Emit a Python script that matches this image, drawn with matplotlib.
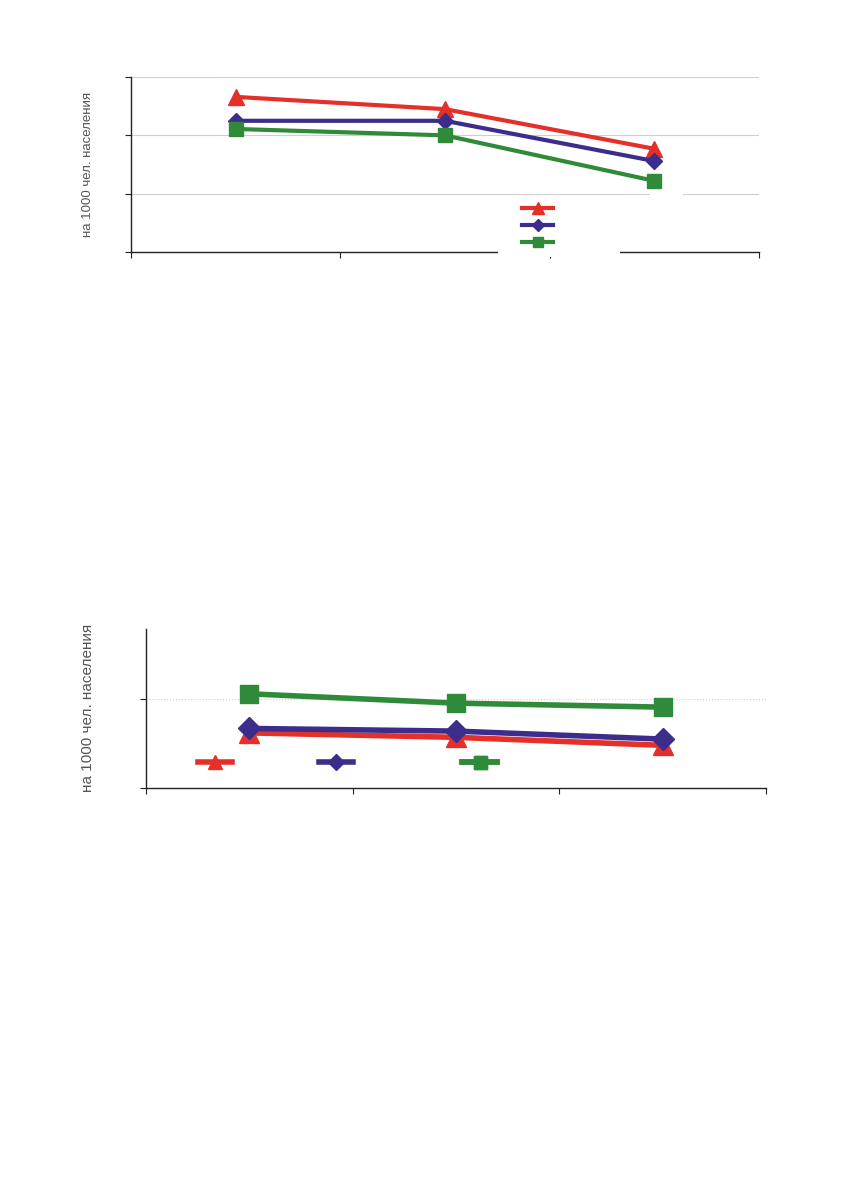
import matplotlib
matplotlib.use("Agg")
import matplotlib.pyplot as plt
from matplotlib.patches import Rectangle

plt.rcParams['font.family'] = ['Liberation Sans', 'DejaVu Sans']

# Data (axis labels are not shown in the source)
periods = ['I', 'II', 'III']
top_red = [2.66, 2.45, 1.77]
top_blue = [2.25, 2.25, 1.56]
top_green = [2.11, 2.00, 1.22]

bottom_red = [0.62, 0.57, 0.48]
bottom_blue = [0.67, 0.64, 0.55]
bottom_green = [1.06, 0.955, 0.91]

RED = '#E5302A'
BLUE = '#3C2D8C'
GREEN = '#2F8B3A'
YLABEL = 'на 1000 чел. населения'

fig = plt.figure(figsize=(8.5, 11.91), dpi=100)

def setup_axes(ax, ymax, yticks, grid_style):
    ax.set_xlim(0, len(periods))
    ax.set_ylim(0, ymax)
    ax.set_xticks(range(len(periods) + 1))
    ax.set_yticks(yticks)
    ax.set_xticklabels([])
    ax.set_yticklabels([])
    ax.tick_params(direction='out', length=4, width=0.8, colors='#222222')
    ax.spines['top'].set_visible(False)
    ax.spines['right'].set_visible(False)
    for s in ('left', 'bottom'):
        ax.spines[s].set_color('#222222')
        ax.spines[s].set_linewidth(1.0)
    ax.yaxis.grid(True, color='#cfcfcf', linewidth=0.8, linestyle=grid_style)
    ax.set_axisbelow(True)

x = [i + 0.5 for i in range(len(periods))]

# ---- top chart ----
ax1 = fig.add_axes([0.1541, 0.7884, 0.7388, 0.1469])
setup_axes(ax1, 3.0, [0, 1, 2, 3], '-')
h1 = ax1.plot(x, top_red, color=RED, lw=3, marker='^', ms=11, clip_on=False)[0]
h2 = ax1.plot(x, top_blue, color=BLUE, lw=3, marker='D', ms=8, clip_on=False)[0]
h3 = ax1.plot(x, top_green, color=GREEN, lw=3, marker='s', ms=10, clip_on=False)[0]

# white boxes of the legend and of a (blank) data label
ax1.add_patch(Rectangle((0.584, -0.03), 0.195, 0.34, transform=ax1.transAxes,
                        facecolor='white', edgecolor='none', zorder=4, clip_on=False))
ax1.add_patch(Rectangle((0.826, 0.32), 0.053, 0.045, transform=ax1.transAxes,
                        facecolor='white', edgecolor='none', zorder=1, clip_on=False))
leg1 = ax1.legend([h1, h2, h3], [' ', ' ', ' '], loc='upper left',
                  bbox_to_anchor=(0.613, 0.312), frameon=False, handlelength=2.5,
                  markerscale=0.75, labelspacing=0.4, fontsize=9, borderpad=0,
                  handletextpad=0.3)
leg1.set_zorder(5)
fig.text(0.104, 0.8618, YLABEL, rotation=90, ha='center', va='center',
         fontsize=9.5, color='#555555')

# ---- bottom chart ----
ax2 = fig.add_axes([0.1718, 0.3384, 0.7294, 0.1335])
setup_axes(ax2, 1.79, [0, 1], ':')
g1 = ax2.plot(x, bottom_red, color=RED, lw=4, marker='^', ms=14, clip_on=False)[0]
g2 = ax2.plot(x, bottom_blue, color=BLUE, lw=4, marker='D', ms=11, clip_on=False)[0]
g3 = ax2.plot(x, bottom_green, color=GREEN, lw=4, marker='s', ms=13, clip_on=False)[0]

# legend entries sit in a row with uneven gaps, one small legend each
legend_x = [0.072, 0.267, 0.499]
for handle, lx in zip([g1, g2, g3], legend_x):
    lg = ax2.legend([handle], [''], loc='center left', bbox_to_anchor=(lx, 0.16),
                    frameon=False, handlelength=2.5, markerscale=0.72,
                    fontsize=10, borderpad=0, handletextpad=0)
    ax2.add_artist(lg)
fig.text(0.104, 0.4055, YLABEL, rotation=90, ha='center', va='center',
         fontsize=11, color='#555555')

fig.savefig('out.png', dpi=100)
